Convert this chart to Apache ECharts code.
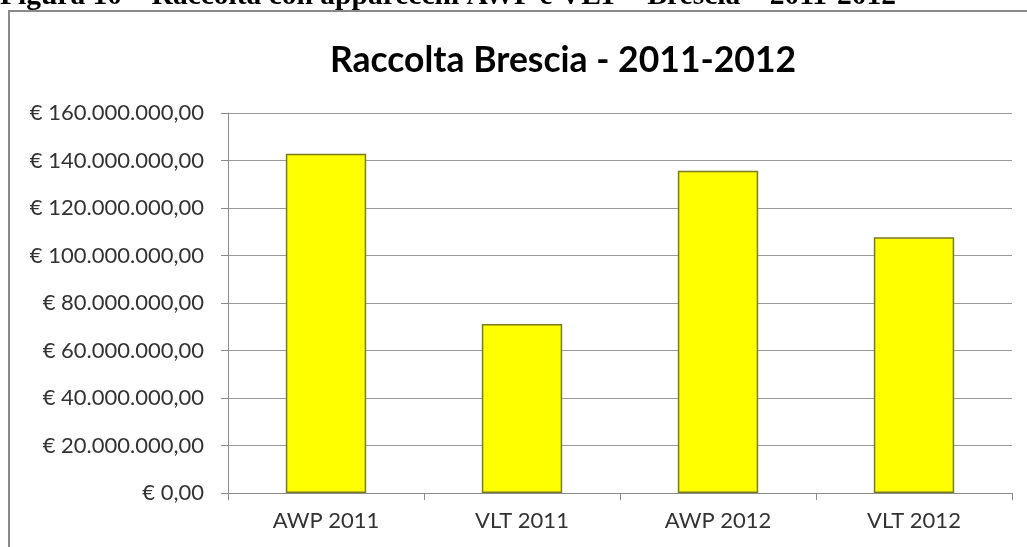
<!DOCTYPE html>
<html>
<head>
<meta charset="utf-8">
<script src="https://cdn.jsdelivr.net/npm/echarts@6/dist/echarts.min.js"></script>
<style>
html,body{margin:0;padding:0;background:#fff;}
#chart{width:1027px;height:547px;}
</style>
</head>
<body>
<div id="chart"></div>
<script>
const categories = ['AWP 2011', 'VLT 2011', 'AWP 2012', 'VLT 2012'];
const raccolta = [142800000, 71200000, 135700000, 107700000];
const headerText = 'Figura 10 – Raccolta con apparecchi AWP e VLT – Brescia – 2011-2012';
const titleText = 'Raccolta Brescia - 2011-2012';

function fmtEuro(v) {
  const s = Math.round(v).toString().replace(/\B(?=(\d{3})+(?!\d))/g, '.');
  return '€ ' + s + ',00';
}

const chart = echarts.init(document.getElementById('chart'));
chart.setOption({
  animation: false,
  backgroundColor: '#ffffff',
  title: {
    text: titleText,
    left: 558,
    textAlign: 'center',
    top: 38,
    textStyle: { fontFamily: 'Lato', fontWeight: 'bold', fontSize: 35.5, color: '#000' }
  },
  graphic: [
    { type: 'rect', shape: { x: 9, y: 11, width: 1040, height: 560 },
      style: { fill: 'none', stroke: '#8a8a8a', lineWidth: 2 }, z: -1 },
    { type: 'text', left: 0, top: -19,
      style: { text: headerText, font: 'bold 29.5px "Liberation Serif"', fill: '#000' } }
  ],
  grid: { left: 228, right: 15, top: 113, bottom: 54 },
  xAxis: {
    type: 'category',
    data: categories,
    axisLine: { lineStyle: { color: '#8a8a8a', width: 1 } },
    axisTick: { show: true, length: 7, lineStyle: { color: '#8a8a8a' } },
    axisLabel: { fontFamily: 'Lato', fontSize: 22, color: '#333333', margin: 17 }
  },
  yAxis: {
    type: 'value',
    min: 0, max: 160000000, interval: 20000000,
    axisLine: { show: true, lineStyle: { color: '#8a8a8a', width: 1 } },
    axisTick: { show: true, length: 7, lineStyle: { color: '#8a8a8a' } },
    splitLine: { lineStyle: { color: '#9a9a9a', width: 1 } },
    axisLabel: { fontFamily: 'Lato', fontSize: 22, color: '#333333', margin: 24, formatter: fmtEuro }
  },
  series: [{
    type: 'bar',
    data: raccolta,
    barWidth: '41%',
    itemStyle: { color: '#ffff00', borderColor: '#7a7a20', borderWidth: 1.5 }
  }]
});
</script>
</body>
</html>
